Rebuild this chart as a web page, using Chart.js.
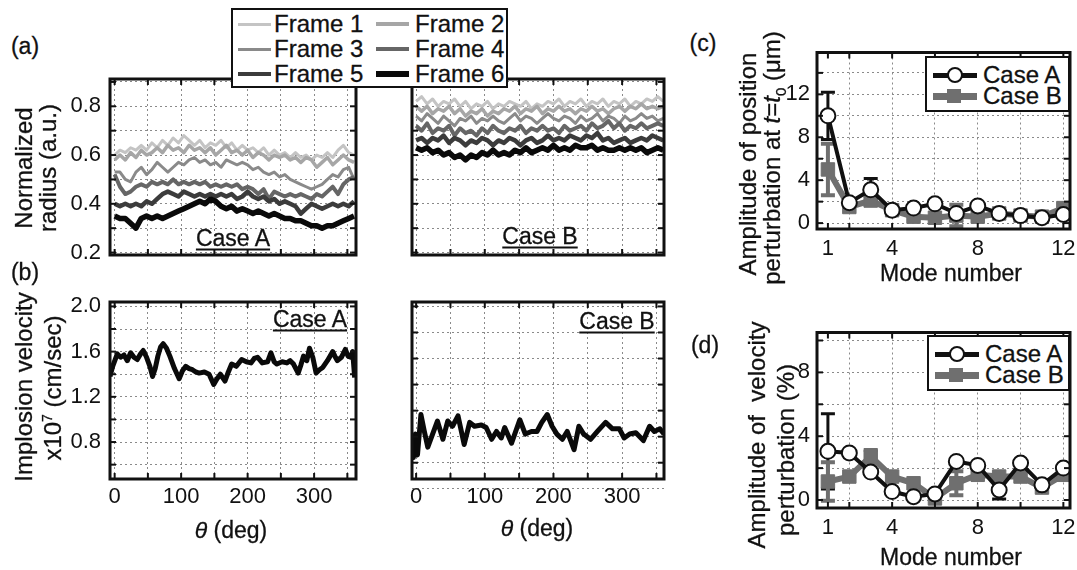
<!DOCTYPE html>
<html><head><meta charset="utf-8">
<script src="https://cdn.jsdelivr.net/npm/chart.js@4.4.0/dist/chart.umd.min.js"></script>
<style>
html,body{margin:0;padding:0;background:#fff;}
body{width:1077px;height:570px;position:relative;overflow:hidden;font-family:"Liberation Sans",Arial,Helvetica,sans-serif;color:#111;}
canvas{position:absolute;z-index:1;}
.t{position:absolute;white-space:nowrap;font-size:23px;line-height:1;z-index:2;-webkit-text-stroke:0.3px #111;}
.c{transform:translate(-50%,-50%);}
.r{transform:translate(-50%,-50%) rotate(-90deg);font-size:24px;}
.case{text-decoration:underline;text-decoration-thickness:2px;text-underline-offset:3px;}
.leg{position:absolute;box-sizing:border-box;border:2px solid #111;background:#fff;z-index:3;}
.leg .sw{position:absolute;}
.leg .lt{position:absolute;font-size:24px;line-height:1;transform:translateY(-50%);white-space:nowrap;-webkit-text-stroke:0.3px #111;}
</style></head>
<body>
<div class="t c" style="left:25px;top:46px;">(a)</div>
<div class="t c" style="left:25px;top:272px;">(b)</div>
<div class="t c" style="left:703px;top:43px;">(c)</div>
<div class="t c" style="left:705px;top:345px;">(d)</div>

<div class="t r" style="left:24px;top:168px;">Normalized</div>
<div class="t r" style="left:48px;top:168px;">radius (a.u.)</div>
<div class="t r" style="left:24px;top:387px;">Implosion velocity</div>
<div class="t r" style="left:52px;top:388px;">x10<sup style="font-size:14px;">7</sup> (cm/sec)</div>
<div class="t r" style="left:748px;top:164px;">Amplitude of position</div>
<div class="t r" style="left:774px;top:158px;">perturbation at <i>t</i>=<i>t</i><sub style="font-size:15px;">0</sub> (μm)</div>
<div class="t r" style="left:757px;top:435px;">Amplitude of&nbsp; velocity</div>
<div class="t r" style="left:786px;top:450px;">perturbation (%)</div>

<div class="t c" style="left:231px;top:530px;"><i>θ</i> (deg)</div>
<div class="t c" style="left:537px;top:528px;"><i>θ</i> (deg)</div>
<div class="t c" style="left:951px;top:273px;">Mode number</div>
<div class="t c" style="left:951px;top:557px;">Mode number</div>

<div class="t c case" style="left:233px;top:238px;">Case A</div>
<div class="t c case" style="left:540px;top:236px;">Case B</div>
<div class="t c case" style="left:310px;top:319px;">Case A</div>
<div class="t c case" style="left:617px;top:321px;">Case B</div>

<div id="legA" class="leg" style="left:231px;top:8px;width:277px;height:80px;"></div>
<div id="legC" class="leg" style="left:925px;top:56px;width:145px;height:56px;"></div>
<div id="legD" class="leg" style="left:927px;top:335px;width:143px;height:56px;"></div>

<script>
// ---------------- DATA ----------------
const FRAME_LABELS = ['Frame 1','Frame 2','Frame 3','Frame 4','Frame 5','Frame 6'];
const RAD_THETA = [0,8,16,24,32,40,48,56,64,72,80,88,96,104,112,120,128,136,144,152,160,168,176,184,192,200,208,216,224,232,240,248,256,264,272,280,288,296,304,312,320,328,336,344,352,360];

const RAD_A_F1 = [0.60,0.62,0.61,0.63,0.62,0.64,0.62,0.65,0.63,0.66,0.64,0.67,0.65,0.68,0.66,0.64,0.66,0.63,0.65,0.64,0.66,0.63,0.65,0.62,0.64,0.62,0.63,0.61,0.63,0.60,0.62,0.60,0.61,0.59,0.61,0.59,0.60,0.58,0.60,0.59,0.61,0.59,0.62,0.64,0.61,0.60];
const RAD_A_F2 = [0.58,0.60,0.58,0.61,0.59,0.62,0.60,0.61,0.63,0.61,0.64,0.62,0.63,0.61,0.64,0.62,0.63,0.61,0.63,0.60,0.62,0.64,0.61,0.62,0.60,0.62,0.59,0.61,0.60,0.58,0.60,0.59,0.60,0.58,0.59,0.57,0.59,0.58,0.55,0.57,0.59,0.56,0.58,0.60,0.58,0.57];
const RAD_A_F3 = [0.53,0.53,0.50,0.49,0.53,0.55,0.52,0.54,0.57,0.55,0.53,0.55,0.57,0.56,0.58,0.59,0.57,0.58,0.56,0.57,0.55,0.58,0.57,0.56,0.57,0.56,0.54,0.55,0.53,0.52,0.53,0.51,0.52,0.50,0.49,0.48,0.47,0.46,0.47,0.48,0.50,0.52,0.51,0.54,0.55,0.50];
const RAD_A_F4 = [0.52,0.47,0.44,0.45,0.47,0.48,0.47,0.49,0.48,0.49,0.48,0.50,0.48,0.49,0.48,0.49,0.48,0.49,0.47,0.48,0.47,0.48,0.47,0.48,0.46,0.47,0.46,0.44,0.46,0.42,0.45,0.44,0.43,0.44,0.43,0.44,0.43,0.42,0.44,0.43,0.45,0.47,0.44,0.48,0.50,0.51];
const RAD_A_F5 = [0.40,0.39,0.40,0.39,0.40,0.39,0.41,0.40,0.42,0.44,0.45,0.44,0.43,0.45,0.44,0.43,0.44,0.43,0.44,0.43,0.44,0.43,0.44,0.42,0.43,0.45,0.43,0.42,0.43,0.41,0.42,0.40,0.41,0.40,0.39,0.36,0.38,0.40,0.39,0.38,0.39,0.40,0.39,0.40,0.39,0.41];
const RAD_A_F6 = [0.35,0.34,0.34,0.32,0.30,0.34,0.35,0.34,0.35,0.34,0.35,0.36,0.37,0.38,0.39,0.40,0.41,0.40,0.42,0.41,0.39,0.38,0.39,0.37,0.38,0.37,0.36,0.37,0.36,0.35,0.36,0.35,0.34,0.34,0.33,0.33,0.32,0.31,0.31,0.30,0.31,0.31,0.32,0.33,0.34,0.35];

const RAD_B_F1 = [0.82,0.84,0.81,0.83,0.80,0.82,0.81,0.83,0.80,0.82,0.79,0.81,0.80,0.82,0.79,0.81,0.80,0.82,0.81,0.80,0.82,0.79,0.81,0.80,0.82,0.81,0.83,0.80,0.82,0.81,0.83,0.80,0.82,0.81,0.83,0.80,0.82,0.81,0.83,0.80,0.82,0.81,0.83,0.82,0.84,0.82];
const RAD_B_F2 = [0.80,0.78,0.80,0.77,0.79,0.78,0.80,0.77,0.79,0.76,0.78,0.77,0.79,0.76,0.78,0.77,0.79,0.78,0.80,0.77,0.79,0.78,0.80,0.77,0.79,0.78,0.80,0.78,0.79,0.77,0.79,0.78,0.80,0.78,0.79,0.77,0.79,0.80,0.78,0.80,0.79,0.81,0.79,0.80,0.79,0.80];
const RAD_B_F3 = [0.76,0.74,0.77,0.75,0.73,0.76,0.74,0.72,0.75,0.74,0.76,0.73,0.75,0.74,0.76,0.74,0.73,0.75,0.77,0.74,0.76,0.75,0.73,0.75,0.77,0.75,0.74,0.76,0.75,0.73,0.76,0.74,0.75,0.77,0.74,0.76,0.75,0.73,0.76,0.74,0.75,0.77,0.75,0.76,0.74,0.75];
const RAD_B_F4 = [0.72,0.70,0.73,0.69,0.71,0.70,0.72,0.68,0.71,0.69,0.70,0.68,0.71,0.69,0.72,0.70,0.69,0.71,0.70,0.72,0.69,0.71,0.70,0.72,0.70,0.71,0.69,0.72,0.70,0.71,0.72,0.70,0.73,0.71,0.72,0.74,0.71,0.73,0.70,0.72,0.71,0.73,0.71,0.72,0.73,0.72];
const RAD_B_F5 = [0.66,0.67,0.65,0.67,0.66,0.68,0.65,0.67,0.66,0.64,0.66,0.65,0.67,0.66,0.64,0.66,0.65,0.67,0.66,0.64,0.66,0.67,0.65,0.66,0.68,0.66,0.67,0.66,0.68,0.67,0.66,0.68,0.67,0.69,0.66,0.67,0.65,0.66,0.67,0.65,0.66,0.67,0.66,0.68,0.67,0.66];
const RAD_B_F6 = [0.63,0.62,0.63,0.61,0.62,0.60,0.61,0.59,0.60,0.58,0.60,0.59,0.61,0.60,0.62,0.60,0.61,0.60,0.62,0.61,0.63,0.61,0.62,0.63,0.62,0.64,0.62,0.63,0.62,0.64,0.63,0.63,0.64,0.62,0.63,0.62,0.62,0.63,0.62,0.63,0.62,0.63,0.61,0.62,0.63,0.62];

const VEL_A_THETA = [-7,-3,4,9,14,19,24,29,34,39,43,48,53,57,61,65,69,73,78,83,90,97,102,107,112,117,122,127,135,142,149,154,159,166,171,176,183,191,198,205,210,215,222,230,235,240,244,252,259,264,269,276,280,284,289,293,298,303,308,313,320,328,332,335,341,347,351,355,358,361];
const VEL_A = [1.38,1.47,1.58,1.55,1.57,1.52,1.59,1.55,1.53,1.58,1.61,1.55,1.47,1.38,1.45,1.56,1.64,1.67,1.63,1.56,1.45,1.36,1.43,1.47,1.45,1.44,1.42,1.41,1.42,1.40,1.31,1.36,1.40,1.34,1.42,1.49,1.47,1.53,1.51,1.50,1.54,1.55,1.50,1.51,1.59,1.51,1.49,1.51,1.50,1.52,1.49,1.41,1.48,1.56,1.52,1.63,1.55,1.41,1.44,1.46,1.52,1.60,1.55,1.52,1.55,1.62,1.56,1.55,1.60,1.37];
const VEL_B_THETA = [-6,-4,-1,2,7,12,17,24,31,39,46,53,61,70,78,85,95,102,110,117,124,129,139,151,159,168,176,183,191,198,205,213,220,230,237,244,254,264,276,286,296,303,311,320,331,340,347,355,361];
const VEL_B = [0.99,0.84,1.02,0.86,1.17,1.04,0.92,1.02,1.12,0.98,1.12,1.08,1.16,0.94,1.11,1.08,1.09,1.07,0.98,1.04,0.99,1.07,0.95,1.13,1.02,1.04,1.04,1.11,1.17,1.08,1.02,0.98,1.04,0.90,1.08,1.02,0.98,1.04,1.11,1.06,1.06,0.99,1.02,1.03,0.97,1.08,1.04,1.06,1.02];

const MODES = [1,2,3,4,5,6,7,8,9,10,11,12];
const POS_A = [10.0,1.9,3.1,1.2,1.4,1.8,0.9,1.6,0.9,0.7,0.5,0.8];
const POS_A_ERR = [2.2,0,1.05,0,0,0,0,0,0,0,0,0];
const POS_B = [5.0,1.5,2.1,1.2,0.6,0.5,0.7,0.6,0.9,0.7,0.6,1.4];
const POS_B_ERR = [2.4,0,0.4,0,0,0,1.0,0,0,0,0,0];
const VELP_A = [3.05,2.95,1.75,0.53,0.21,0.38,2.42,2.17,0.63,2.32,0.95,2.0];
const VELP_A_ERR = [2.36,0,0,0,0,0,0,0,0.57,0,0,0];
const VELP_B = [1.16,1.47,2.74,1.47,1.05,0.1,1.05,1.58,1.47,1.47,0.78,1.58];
const VELP_B_ERR = [1.2,0,0.4,0,0,0,0.75,0,0,0,0,0];

const THETA_TICKS = [0,50,100,150,200,250,300,350];
const THETA_LABELS = [0,100,200,300];
const RAD_TICKS = [0.2,0.3,0.4,0.5,0.6,0.7,0.8,0.9];
const RAD_LABELS = [0.2,0.4,0.6,0.8];
const VEL_TICKS = [0.6,0.8,1.0,1.2,1.4,1.6,1.8,2.0];
const VEL_LABELS = [0.8,1.2,1.6,2.0];
const POS_TICKS = [0,2,4,6,8,10,12,14];
const POS_LABELS = [0,4,8,12];
const VELP_TICKS = [0,2,4,6,8,10];
const VELP_LABELS = [0,4,8];
const MODE_TICKS = [1,2,4,6,8,10,12];
const MODE_LABELS = [1,4,8,12];

// ---------------- STYLES ----------------
const FRAME_COLORS = ['#c4c4c4','#a6a6a6','#8a8a8a','#666666','#3c3c3c','#0a0a0a'];
const FRAME_WIDTHS = [3,3.5,3,4,4.5,5.5];
const CASE_A_COLOR = '#111111';
const CASE_B_COLOR = '#6f6f6f';

Chart.defaults.font.family = '"Liberation Sans", Arial, Helvetica, sans-serif';
Chart.defaults.color = '#111';

const PAD = {l:75, t:10, r:12, b:50};

const framePlugin = {
  id: 'frameTicks',
  afterDatasetsDraw(chart) {
    const {ctx, chartArea: a, scales} = chart;
    ctx.save();
    ctx.strokeStyle = '#111';
    ctx.lineWidth = 2;
    const seg = (x1,y1,x2,y2) => { ctx.beginPath(); ctx.moveTo(x1,y1); ctx.lineTo(x2,y2); ctx.stroke(); };
    scales.x.ticks.forEach(t => {
      const p = scales.x.getPixelForValue(t.value);
      if (p < a.left + 2 || p > a.right - 2) return;
      seg(p, a.bottom, p, a.bottom - 6); seg(p, a.top, p, a.top + 6);
    });
    scales.y.ticks.forEach(t => {
      const p = scales.y.getPixelForValue(t.value);
      if (p < a.top + 2 || p > a.bottom - 2) return;
      seg(a.left, p, a.left + 6, p); seg(a.right, p, a.right - 6, p);
    });
    ctx.lineWidth = 3;
    ctx.strokeRect(a.left, a.top, a.right - a.left, a.bottom - a.top);
    ctx.restore();
  }
};

const errorBarPlugin = {
  id: 'errbars',
  beforeDatasetsDraw(chart) {
    const {ctx, scales: {y}} = chart;
    chart.data.datasets.forEach((ds, i) => {
      if (!ds.errors) return;
      const meta = chart.getDatasetMeta(i);
      ctx.save();
      ctx.strokeStyle = ds.errorColor;
      ctx.lineWidth = ds.errorWidth;
      meta.data.forEach((pt, j) => {
        const e = ds.errors[j];
        if (!e) return;
        const v = ds.data[j].y;
        const y1 = y.getPixelForValue(v + e), y2 = y.getPixelForValue(v - e);
        ctx.beginPath();
        ctx.moveTo(pt.x, y1); ctx.lineTo(pt.x, y2);
        ctx.moveTo(pt.x - 7, y1); ctx.lineTo(pt.x + 7, y1);
        ctx.moveTo(pt.x - 7, y2); ctx.lineTo(pt.x + 7, y2);
        ctx.stroke();
      });
      ctx.restore();
    });
  }
};

function axisCfg(s, horiz) {
  return {
    type: 'linear', min: s.min, max: s.max,
    afterBuildTicks: sc => { sc.ticks = s.ticks.map(v => ({value: v})); },
    ticks: {
      display: s.labels.length > 0, autoSkip: false, maxRotation: 0, minRotation: 0,
      padding: s.pad, font: {size: 22}, color: '#111',
      callback: v => s.labels.some(l => Math.abs(l - v) < 1e-6) ? s.fmt(v) : ''
    },
    grid: {
      drawTicks: false, lineWidth: 1,
      color: ctx => (s.noGrid && s.noGrid.includes(ctx.tick && ctx.tick.value)) ? 'rgba(0,0,0,0)' : '#8a8a8a'
    },
    border: {display: false, dash: [2, 3]},
    afterFit: sc => {
      if (horiz) sc.height = PAD.b; else sc.width = PAD.l;
      sc.paddingLeft = 0; sc.paddingRight = 0; sc.paddingTop = 0; sc.paddingBottom = 0;
    }
  };
}

function makePanel(area, datasets, xs, ys) {
  const cv = document.createElement('canvas');
  const w = area.r - area.l + PAD.l + PAD.r;
  const h = area.b - area.t + PAD.t + PAD.b;
  cv.width = w; cv.height = h;
  Object.assign(cv.style, {left: (area.l - PAD.l) + 'px', top: (area.t - PAD.t) + 'px', width: w + 'px', height: h + 'px'});
  document.body.appendChild(cv);
  return new Chart(cv.getContext('2d'), {
    type: 'line',
    data: {datasets},
    options: {
      responsive: false, animation: false, devicePixelRatio: 1,
      layout: {padding: {left: 0, top: PAD.t, right: PAD.r, bottom: 0}},
      plugins: {legend: {display: false}, tooltip: {enabled: false}},
      elements: {line: {tension: 0}},
      scales: {x: axisCfg(xs, true), y: axisCfg(ys, false)}
    },
    plugins: [errorBarPlugin, framePlugin]
  });
}

const pts = (xs, ys) => xs.map((x, i) => ({x, y: ys[i]}));
const fmt1 = v => v.toFixed(1);
const fmt0 = v => String(Math.round(v));

function frameSets(frames) {
  return frames.map((vals, i) => ({
    label: FRAME_LABELS[i], data: pts(RAD_THETA, vals),
    borderColor: FRAME_COLORS[i], borderWidth: FRAME_WIDTHS[i], pointRadius: 0,
    borderJoinStyle: 'round', order: 6 - i
  }));
}

// (a) Case A
makePanel({l:110, t:79, r:356, b:255},
  frameSets([RAD_A_F1, RAD_A_F2, RAD_A_F3, RAD_A_F4, RAD_A_F5, RAD_A_F6]),
  {min:-7, max:363, ticks:THETA_TICKS, labels:[], fmt:fmt0, pad:5},
  {min:0.19, max:0.912, ticks:RAD_TICKS, labels:RAD_LABELS, fmt:fmt1, pad:9});
// (a) Case B
makePanel({l:412, t:79, r:664, b:255},
  frameSets([RAD_B_F1, RAD_B_F2, RAD_B_F3, RAD_B_F4, RAD_B_F5, RAD_B_F6]),
  {min:-6, max:361, ticks:THETA_TICKS, labels:[], fmt:fmt0, pad:5},
  {min:0.19, max:0.912, ticks:RAD_TICKS, labels:[], fmt:fmt1, pad:9});
// (b) Case A
makePanel({l:110, t:302, r:356, b:479},
  [{label:'Case A', data:pts(VEL_A_THETA, VEL_A), borderColor:'#0a0a0a', borderWidth:5, pointRadius:0, borderJoinStyle:'round'}],
  {min:-7, max:363, ticks:THETA_TICKS, labels:THETA_LABELS, fmt:fmt0, pad:5},
  {min:0.473, max:2.039, ticks:VEL_TICKS, labels:VEL_LABELS, fmt:fmt1, pad:9});
// (b) Case B
makePanel({l:412, t:302, r:664, b:479},
  [{label:'Case B', data:pts(VEL_B_THETA, VEL_B), borderColor:'#0a0a0a', borderWidth:5, pointRadius:0, borderJoinStyle:'round'}],
  {min:-6, max:361, ticks:THETA_TICKS, labels:THETA_LABELS, fmt:fmt0, pad:5},
  {min:0.675, max:2.034, ticks:VEL_TICKS, labels:[], fmt:fmt1, pad:9});

function modeSets(a, aErr, b, bErr) {
  return [
    {label:'Case A', data:pts(MODES, a), errors:aErr, errorColor:CASE_A_COLOR, errorWidth:3,
     borderColor:CASE_A_COLOR, borderWidth:4, pointRadius:7.5, pointStyle:'circle',
     pointBackgroundColor:'#fff', pointBorderColor:CASE_A_COLOR, pointBorderWidth:2, order:0},
    {label:'Case B', data:pts(MODES, b), errors:bErr, errorColor:CASE_B_COLOR, errorWidth:4,
     borderColor:CASE_B_COLOR, borderWidth:6, pointRadius:9.5, pointStyle:'rect',
     pointBackgroundColor:CASE_B_COLOR, pointBorderColor:CASE_B_COLOR, pointBorderWidth:1, order:1}
  ];
}
// (c)
makePanel({l:817, t:52, r:1070, b:229},
  modeSets(POS_A, POS_A_ERR, POS_B, POS_B_ERR),
  {min:0.49, max:12.31, ticks:MODE_TICKS, labels:MODE_LABELS, fmt:fmt0, pad:7, noGrid:[1]},
  {min:-0.55, max:15.9, ticks:POS_TICKS, labels:POS_LABELS, fmt:fmt0, pad:7});
// (d)
makePanel({l:817, t:332, r:1070, b:508},
  modeSets(VELP_A, VELP_A_ERR, VELP_B, VELP_B_ERR),
  {min:0.49, max:12.31, ticks:MODE_TICKS, labels:MODE_LABELS, fmt:fmt0, pad:7, noGrid:[1]},
  {min:-0.5, max:10.5, ticks:VELP_TICKS, labels:VELP_LABELS, fmt:fmt0, pad:7});

// ---------------- LEGENDS (HTML) ----------------
(function(){
  const box = document.getElementById('legA');
  const rows = [14, 39, 64];
  FRAME_LABELS.forEach((lab, i) => {
    const col = i % 2, row = Math.floor(i / 2);
    const sx = col === 0 ? 5 : 143, tx = col === 0 ? 41 : 182;
    const sw = document.createElement('div');
    sw.className = 'sw';
    Object.assign(sw.style, {left: sx + 'px', width: '33px', top: (rows[row] - FRAME_WIDTHS[i] / 2) + 'px', height: FRAME_WIDTHS[i] + 'px', background: FRAME_COLORS[i]});
    box.appendChild(sw);
    const t = document.createElement('div');
    t.className = 'lt'; t.textContent = lab;
    Object.assign(t.style, {left: tx + 'px', top: rows[row] + 'px'});
    box.appendChild(t);
  });
  function caseLegend(id) {
    const b = document.getElementById(id);
    const r = [17, 38];
    let l = document.createElement('div'); l.className = 'sw';
    Object.assign(l.style, {left:'6px', width:'44px', top:(r[0]-2.5)+'px', height:'5px', background:CASE_A_COLOR}); b.appendChild(l);
    let m = document.createElement('div'); m.className = 'sw';
    Object.assign(m.style, {left:'20px', top:(r[0]-8)+'px', width:'12px', height:'12px', borderRadius:'50%', border:'2px solid ' + CASE_A_COLOR, background:'#fff'}); b.appendChild(m);
    l = document.createElement('div'); l.className = 'sw';
    Object.assign(l.style, {left:'6px', width:'44px', top:(r[1]-3.5)+'px', height:'7px', background:CASE_B_COLOR}); b.appendChild(l);
    m = document.createElement('div'); m.className = 'sw';
    Object.assign(m.style, {left:'20px', top:(r[1]-7)+'px', width:'14px', height:'14px', background:CASE_B_COLOR}); b.appendChild(m);
    ['Case A', 'Case B'].forEach((s, k) => {
      const t = document.createElement('div'); t.className = 'lt'; t.textContent = s;
      Object.assign(t.style, {left:'56px', top:r[k]+'px'}); b.appendChild(t);
    });
  }
  caseLegend('legC'); caseLegend('legD');
})();
</script>
</body></html>
